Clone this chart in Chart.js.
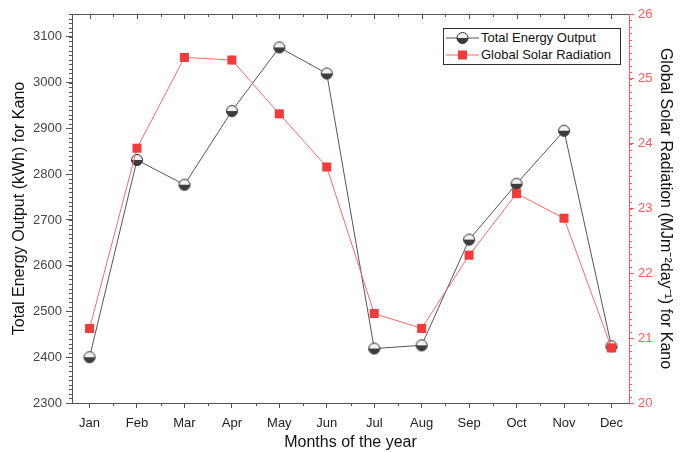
<!DOCTYPE html>
<html>
<head>
<meta charset="utf-8">
<title>Energy output and solar radiation, Kano</title>
<script src="https://cdn.jsdelivr.net/npm/chart.js@4.4.1/dist/chart.umd.min.js"></script>
<style>
  html, body { margin: 0; padding: 0; background: #fff; }
  #wrap { position: relative; width: 687px; height: 452px; }
  #legend {
    position: absolute; left: 443px; top: 28px; width: 176px; height: 35px;
    border: 1px solid #333; background: #fff;
    font: 13px "Liberation Sans", Arial, sans-serif; color: #111;
  }
  .row { position: absolute; left: 0; height: 17px; display: flex; align-items: center; white-space: nowrap; }
  .row svg { margin-left: 2px; margin-right: 2px; }
</style>
</head>
<body>
<div id="wrap">
  <canvas id="chart" width="687" height="452"></canvas>
  <div id="legend">
    <div class="row" style="top:0px">
      <svg width="33" height="14" viewBox="0 0 33 14">
        <line x1="0" y1="7" x2="33" y2="7" stroke="#555" stroke-width="1"/>
        <path d="M11 7 A5.5 5.5 0 0 1 22 7 Z" fill="#f2f2f2"/>
        <path d="M11 7 A5.5 5.5 0 0 0 22 7 Z" fill="#3d3d3d"/>
        <circle cx="16.5" cy="7" r="5.5" fill="none" stroke="#333" stroke-width="1"/>
      </svg>
      <span>Total Energy Output</span>
    </div>
    <div class="row" style="top:17px">
      <svg width="33" height="14" viewBox="0 0 33 14">
        <line x1="0" y1="7" x2="33" y2="7" stroke="#ff6666" stroke-width="1"/>
        <rect x="12" y="2.5" width="9" height="9" fill="#f23b3b"/>
      </svg>
      <span>Global Solar Radiation</span>
    </div>
  </div>
</div>
<script>
// data
const months = ['Jan', 'Feb', 'Mar', 'Apr', 'May', 'Jun', 'Jul', 'Aug', 'Sep', 'Oct', 'Nov', 'Dec'];
const energyOutput = [2400, 2831, 2777, 2938, 3077, 3020, 2419, 2426, 2657, 2779, 2895, 2424];
const solarRadiation = [21.15, 23.93, 25.33, 25.29, 24.46, 23.64, 21.38, 21.15, 22.28, 23.23, 22.85, 20.85];

const energyTicks = { min: 2300, max: 3150, step: 100, minorStep: 10 };
const radiationTicks = { min: 20, max: 26, step: 1, minorStep: 0.1 };

const FONT = '"Liberation Sans", Arial, sans-serif';
const AXIS_GRAY = '#555';
const AXIS_RED = '#ff5a5a';

// half-shaded ball marker
function ballMarker(r) {
    const c = document.createElement('canvas');
    const s = Math.ceil(r * 2 + 3);
    c.width = c.height = s;
    const g = c.getContext('2d');
    const m = s / 2;
    g.beginPath(); g.arc(m, m, r, Math.PI, 0); g.closePath();
    g.fillStyle = '#f2f2f2'; g.fill();
    g.beginPath(); g.arc(m, m, r, 0, Math.PI); g.closePath();
    g.fillStyle = '#3d3d3d'; g.fill();
    g.beginPath(); g.arc(m, m, r, 0, Math.PI * 2);
    g.strokeStyle = '#333'; g.lineWidth = 1; g.stroke();
    return c;
}

// minor ticks + top frame ticks, placed through the chart scales
const frameTicks = {
    id: 'frameTicks',
    afterDraw(chart) {
        const { ctx, chartArea: a, scales: { x, y, y1 } } = chart;
        ctx.save();
        ctx.lineWidth = 1;

        // top frame line with inward ticks
        ctx.strokeStyle = AXIS_GRAY;
        ctx.beginPath();
        ctx.moveTo(a.left, a.top + 0.5); ctx.lineTo(a.right, a.top + 0.5);
        for (let i = 0; i < months.length; i++) {
            const px = Math.round(x.getPixelForValue(i)) + 0.5;
            ctx.moveTo(px, a.top); ctx.lineTo(px, a.top + 5);
            if (i < months.length - 1) {
                const hx = Math.round(x.getPixelForValue(i + 0.5)) + 0.5;
                ctx.moveTo(hx, a.top); ctx.lineTo(hx, a.top + 3);
                // bottom minor tick
                ctx.moveTo(hx, a.bottom); ctx.lineTo(hx, a.bottom + 3);
            }
        }
        ctx.stroke();

        // left minor ticks
        ctx.beginPath();
        const nL = Math.round((energyTicks.max - energyTicks.min) / energyTicks.minorStep);
        for (let k = 0; k <= nL; k++) {
            const py = Math.round(y.getPixelForValue(energyTicks.min + k * energyTicks.minorStep)) + 0.5;
            ctx.moveTo(a.left - 3, py); ctx.lineTo(a.left, py);
        }
        ctx.stroke();

        // right minor ticks
        ctx.strokeStyle = AXIS_RED;
        ctx.beginPath();
        const nR = Math.round((radiationTicks.max - radiationTicks.min) / radiationTicks.minorStep);
        for (let k = 0; k <= nR; k++) {
            const py = Math.round(y1.getPixelForValue(radiationTicks.min + k * radiationTicks.minorStep)) + 0.5;
            ctx.moveTo(a.right, py); ctx.lineTo(a.right + 3, py);
        }
        ctx.stroke();
        ctx.restore();
    }
};

const tickFont = { family: FONT, size: 13 };
const titleFont = { family: FONT, size: 16 };

new Chart(document.getElementById('chart'), {
    type: 'line',
    data: {
        datasets: [
            {
                label: 'Global Solar Radiation',
                data: solarRadiation.map((v, i) => ({ x: i, y: v })),
                yAxisID: 'y1',
                borderColor: '#ff6666',
                borderWidth: 1,
                pointStyle: 'rect',
                pointRadius: 6.4,
                pointBackgroundColor: '#f23b3b',
                pointBorderWidth: 0,
                tension: 0,
                order: 0
            },
            {
                label: 'Total Energy Output',
                data: energyOutput.map((v, i) => ({ x: i, y: v })),
                yAxisID: 'y',
                borderColor: '#555',
                borderWidth: 1,
                pointStyle: ballMarker(5.5),
                pointRadius: 6,
                tension: 0,
                order: 1
            }
        ]
    },
    options: {
        responsive: false,
        animation: false,
        devicePixelRatio: 1,
        layout: { padding: { top: 14, left: 0, right: 0, bottom: 0 } },
        plugins: { legend: { display: false }, tooltip: { enabled: false } },
        scales: {
            x: {
                type: 'linear',
                min: -0.37,
                max: 11.37,
                afterFit: s => { s.height = 49; },
                ticks: {
                    stepSize: 1, includeBounds: false, autoSkip: false, maxRotation: 0,
                    callback: v => Number.isInteger(v) ? months[v] : '',
                    color: '#222', font: tickFont, padding: 8
                },
                grid: { drawOnChartArea: false, tickLength: 5, color: AXIS_GRAY, tickColor: AXIS_GRAY },
                border: { color: AXIS_GRAY, width: 1 },
                title: { display: true, text: 'Months of the year', color: '#111', font: titleFont, padding: { top: 0, bottom: 0 } }
            },
            y: {
                position: 'left',
                min: energyTicks.min,
                max: energyTicks.max,
                afterFit: s => { s.width = 72; },
                ticks: { stepSize: energyTicks.step, includeBounds: false, color: '#444', font: tickFont, padding: 4, callback: v => String(v) },
                grid: { drawOnChartArea: false, tickLength: 6, color: AXIS_GRAY, tickColor: AXIS_GRAY },
                border: { color: AXIS_GRAY, width: 1 },
                title: { display: true, text: 'Total Energy Output (kWh) for Kano', color: '#111', font: titleFont, padding: { top: 10, bottom: 0 } }
            },
            y1: {
                position: 'right',
                min: radiationTicks.min,
                max: radiationTicks.max,
                afterFit: s => { s.width = 58; },
                ticks: { stepSize: radiationTicks.step, includeBounds: false, color: AXIS_RED, font: tickFont, padding: 4, callback: v => String(v) },
                grid: { drawOnChartArea: false, tickLength: 5, color: AXIS_RED, tickColor: AXIS_RED },
                border: { color: AXIS_RED, width: 1 },
                title: { display: true, text: 'Global Solar Radiation (MJm⁻²day⁻¹) for Kano', color: '#111', font: titleFont, padding: { top: 12, bottom: 0 } }
            }
        }
    },
    plugins: [frameTicks]
});
</script>
</body>
</html>
